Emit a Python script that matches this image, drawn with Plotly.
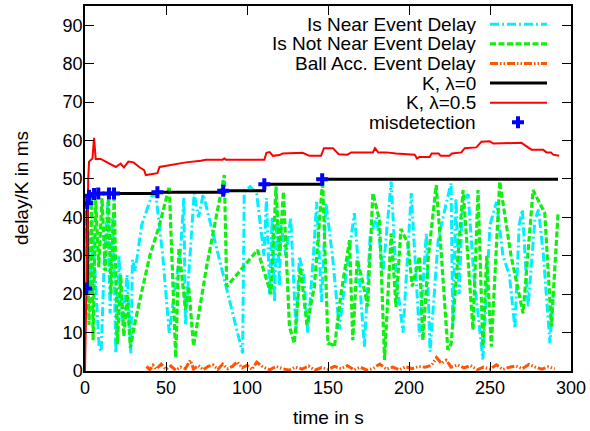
import plotly.graph_objects as go

FONT = "Liberation Sans, Arial, sans-serif"

# ---------------- data ----------------
near_x = [0.5, 1.5, 3, 5, 8.7, 10, 12, 14, 15.5, 17, 18, 19, 21, 23, 26, 28.3, 29.3, 31, 35, 41, 43.7,
          48, 52, 55, 59, 61, 62, 65, 67.4, 70, 73, 97.3, 98.3, 102, 106, 110.5, 112, 114, 115.5, 117,
          118.5, 120, 121, 124, 127, 130.3, 132.3, 135, 137.5, 141, 143, 146, 148.8, 153, 157, 160.2,
          166.3, 172.5, 176, 180, 184, 189, 192, 196.3, 201.4, 206.5, 210.7, 213, 218, 223, 226, 227,
          229, 231, 233, 236.5, 240, 245.6, 250, 254, 258, 262, 265.4, 268, 270, 273.5, 277.7, 280,
          283, 287, 289]
near_y = [30, 42, 20, 35, 6.3, 5, 30, 44, 15, 40, 28, 4.6, 30, 12, 25, 4.6, 29, 26, 38, 45.4, 46,
          30, 9.9, 20, 31.5, 45, 12, 30, 46.3, 40, 46, 4.6, 46.7, 48, 46, 30, 45, 20, 40, 18,
          42, 22, 38, 30, 40, 10, 29.9, 25, 10, 30, 44, 18, 43.7, 28.9, 11, 22,
          41.1, 6.3, 35, 40, 26, 49.3, 25, 10, 46.3, 9, 35.8, 5, 34, 43.7, 48.9, 12,
          45, 20, 44, 46, 25, 3, 38, 44, 30, 25, 11, 38, 42, 16.7, 39.3, 42,
          30, 7.2, 20]

notnear_x = [0.5, 1.5, 2.5, 4, 5, 6.6, 8.5, 10.5, 12.5, 14.5, 16, 18, 20, 22, 24, 26, 28, 31, 40, 46,
             52, 56, 58, 62, 64, 67, 75, 86, 87.5, 106.5, 114.8, 117.9, 120, 122.5, 126.2, 129.2, 133,
             137, 141.6, 146.7, 150, 152, 154, 158, 163.3, 165.3, 168, 171, 174.5, 177.7, 181.8, 184.9,
             189, 192, 195, 199.3, 202, 206.5, 208.6, 212, 216.8, 220, 224, 226, 233.4, 239.5, 242.6,
             245.6, 248, 250.8, 256, 263, 270.4, 276.6, 283.8, 287.9, 292]
notnear_y = [44, 30, 12, 45, 8, 44.5, 27, 45, 26, 46, 20, 45, 7, 25, 9, 20, 6, 13, 30, 38,
             48, 3.5, 32, 16, 22, 6.5, 27, 51, 22, 31.5, 20, 48, 30, 46.7, 11.6, 7.2, 27,
             12, 22, 49.7, 7.2, 7, 6.3, 20, 34, 8, 29, 24, 16.8, 46.3, 39.3, 2.9,
             35.8, 16.7, 37, 33.3, 22, 29.8, 8, 30, 48.4, 30, 5.5, 7, 47.1, 10.7, 47.1,
             6.3, 30, 6.3, 49.3, 30, 15, 47.1, 41.1, 11.6, 41]

ball_x = [38, 40, 42, 44, 47, 50, 53, 56, 59, 62, 65, 67, 70, 73, 76, 79, 82, 85, 88, 91, 94, 97, 100,
          103, 106, 110, 114, 118, 122, 126, 130, 134, 138, 142, 146, 150, 154, 158, 162, 166, 170, 174,
          178, 182, 186, 190, 194, 198, 202, 206, 210, 214, 217, 220, 223, 226, 230, 234, 238, 242, 246,
          250, 254, 258, 262, 266, 270, 274, 278, 282, 286, 290]
ball_y = [1.2, 0.3, 1.5, 0.5, 1.8, 0.4, 1.3, 0.2, 1.0, 0.6, 2.8, 0.5, 1.4, 0.3, 1.2, 1.6, 0.4, 1.8,
          0.6, 1.2, 2.4, 0.8, 1.5, 0.4, 2.3, 1.0, 0.3, 1.2, 0.6, 0.2, 1.0, 0.5, 1.3, 0.2, 0.9, 0.4,
          1.2, 0.6, 1.4, 0.3, 1.0, 0.2, 0.7, 1.8, 0.5, 1.0, 0.3, 1.1, 0.6, 1.2, 1.0, 1.5, 3.5, 2.0,
          2.8, 1.0, 1.6, 0.8, 1.4, 0.3, 1.0, 0.5, 1.6, 0.4, 1.0, 1.3, 0.6, 1.7, 1.0, 0.5, 1.1, 0.6]

misdet_x = [0.8, 1.4, 2.5, 5.6, 8.2, 14.8, 17.9, 44.7, 85.3, 110.7, 146.4]
misdet_y = [21.5, 43.7, 45.6, 46.1, 46.2, 46.2, 46.2, 46.5, 46.9, 48.6, 49.9]

k0_x = misdet_x + [292]
k0_y = misdet_y + [49.9]

k05_x = [0, 1.0, 2.0, 2.5, 4.6, 5.6, 6.6, 9.7, 19, 22, 24, 26.8, 30, 33.4, 36.5, 37.5, 44.7, 46, 52,
         58, 62.3, 71.5, 74.6, 85, 86, 87, 110.7, 112, 114, 116, 120, 122, 134.4, 138.5, 145.7, 147.5,
         153, 156.6, 162, 164.3, 177.7, 179, 181, 186, 192, 203.5, 205, 206.4, 212.7, 214, 218.3,
         219.5, 225, 226.5, 232.3, 234.4, 241.6, 244.7, 249.8, 252, 269.4, 271.4, 275.6, 282.8, 284.8,
         287.6, 289, 292.7]
k05_y = [0, 30, 50, 54.5, 55.3, 60.7, 55.2, 55.2, 53.1, 54, 53, 54.5, 54.3, 53.1, 52.3, 51, 51.5, 53.1,
         53.5, 54, 54.3, 54.7, 55, 55, 55.3, 55, 55, 56.8, 57, 56, 56.2, 56.6, 56.8, 56, 56, 58,
         58, 56.4, 56.3, 56.9, 56.9, 58, 56.9, 56.9, 56.6, 56.3, 55.3, 55.7, 55.7, 56.6, 56.6,
         56, 56, 56.6, 56.9, 58, 58.2, 59.7, 59.8, 59.2, 59.4, 58.8, 57.6, 57.6, 56.9,
         56.9, 56.3, 56]

legend_names = ["Is Near Event Delay", "Is Not Near Event Delay", "Ball Acc. Event Delay",
                "K, λ=0", "K, λ=0.5", "misdetection"]

x_ticks = [0, 50, 100, 150, 200, 250, 300]
y_ticks = [0, 10, 20, 30, 40, 50, 60, 70, 80, 90]

# ---------------- styles ----------------
C_NEAR = "#00F0FF"
C_NOT = "#11EE11"
C_BALL = "#FF5500"
D_NEAR = "9px,3px,2px,3px"
D_NOT = "6px,2.5px"
D_BALL = "8px,2px,1.5px,2px,1.5px,2px"

fig = go.Figure()
fig.add_trace(go.Scatter(x=near_x, y=near_y, mode="lines",
                         line=dict(color=C_NEAR, width=3, dash=D_NEAR), showlegend=False))
fig.add_trace(go.Scatter(x=notnear_x, y=notnear_y, mode="lines",
                         line=dict(color=C_NOT, width=3.2, dash=D_NOT), showlegend=False))
fig.add_trace(go.Scatter(x=ball_x, y=ball_y, mode="lines",
                         line=dict(color=C_BALL, width=3, dash=D_BALL), showlegend=False))
fig.add_trace(go.Scatter(x=k0_x, y=k0_y, mode="lines", line_shape="hv",
                         line=dict(color="black", width=3), showlegend=False))
fig.add_trace(go.Scatter(x=k05_x, y=k05_y, mode="lines",
                         line=dict(color="#FF0000", width=2), showlegend=False))
fig.add_trace(go.Scatter(x=misdet_x, y=misdet_y, mode="markers",
                         marker=dict(symbol="cross", size=10, color="#0000FF"), showlegend=False))

# legend sample marker on an overlay axis in [0,1]
fig.add_trace(go.Scatter(x=[(518 - 85) / 486], y=[(371 - 122.3) / 365], xaxis="x2", yaxis="y2",
                         mode="markers", marker=dict(symbol="cross", size=10, color="#0000FF"),
                         showlegend=False, hoverinfo="skip"))

# ---------------- custom legend ----------------
row_py = [24.3, 43.9, 63.5, 83.1, 102.7, 122.3]
styles = [(C_NEAR, D_NEAR, 3), (C_NOT, D_NOT, 3.2), (C_BALL, D_BALL, 3),
          ("black", "solid", 3), ("#FF0000", "solid", 2), None]
annotations = []
shapes = []
for name, py, st in zip(legend_names, row_py, styles):
    yp = (371 - py) / 365
    annotations.append(dict(x=(477 - 85) / 486, y=yp, xref="paper", yref="paper", text=name,
                            showarrow=False, xanchor="right", yanchor="middle",
                            height=19, borderpad=0,
                            font=dict(family=FONT, size=19, color="black")))
    if st is not None:
        col, dash, w = st
        shapes.append(dict(type="line", xref="paper", yref="paper",
                           x0=(490 - 85) / 486, x1=(547 - 85) / 486, y0=yp, y1=yp,
                           line=dict(color=col, width=w, dash=dash)))

annotations.append(dict(x=(328 - 85) / 486, y=(371 - 417) / 365, xref="paper", yref="paper",
                        text="time in s", showarrow=False, xanchor="center", yanchor="middle",
                        font=dict(family=FONT, size=19, color="black")))
annotations.append(dict(x=(22 - 85) / 486, y=(371 - 188) / 365, xref="paper", yref="paper",
                        text="delay/K in ms", showarrow=False, xanchor="center", yanchor="middle",
                        textangle=-90, font=dict(family=FONT, size=19, color="black")))

axis_common = dict(ticks="inside", ticklen=9, tickwidth=1.2, tickcolor="black",
                   showline=True, linecolor="black", linewidth=1.5, mirror="ticks",
                   showgrid=False, zeroline=False, automargin=False,
                   tickfont=dict(family=FONT, size=18, color="black"))

fig.update_layout(
    width=590, height=431,
    margin=dict(l=85, r=19, t=6, b=60, autoexpand=False),
    paper_bgcolor="white", plot_bgcolor="white",
    xaxis=dict(range=[0, 300], tickvals=x_ticks, ticktext=[str(v) for v in x_ticks], **axis_common),
    yaxis=dict(range=[0, 95], tickvals=y_ticks, ticktext=[str(v) for v in y_ticks],
               ticklabelstandoff=-3, **axis_common),
    xaxis2=dict(range=[0, 1], overlaying="x", visible=False, anchor="y2", automargin=False),
    yaxis2=dict(range=[0, 1], overlaying="y", visible=False, anchor="x2", automargin=False),
    annotations=annotations,
    shapes=shapes,
    showlegend=False,
)

fig.write_html("out.html", config={"displayModeBar": False},
               post_script="document.body.style.margin='0';document.body.style.padding='0';")
